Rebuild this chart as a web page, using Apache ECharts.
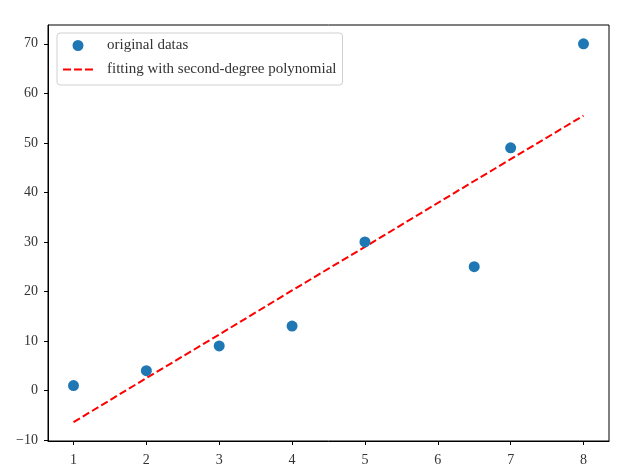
<!DOCTYPE html>
<html><head><meta charset="utf-8">
<script src="https://cdn.jsdelivr.net/npm/echarts@6/dist/echarts.min.js"></script>
<style>html,body{margin:0;padding:0;background:#fff}#c{width:634px;height:475px}</style>
</head><body><div id="c"></div>
<script>
const xData = [1, 2, 3, 4, 5, 6.5, 7, 8];
const yData = [1, 4, 9, 13, 30, 25, 49, 70];
const fitX = [1, 2, 3, 4, 5, 6.5, 7, 8];
const fitY = [-6.4, 2.5, 11.3, 20.2, 29.0, 42.3, 46.7, 55.5];
const xTicks = [1, 2, 3, 4, 5, 6, 7, 8];
const yTicks = [-10, 0, 10, 20, 30, 40, 50, 60, 70];

const font = '"Liberation Serif", "DejaVu Serif", serif';
const chart = echarts.init(document.getElementById('c'), null, {renderer: 'canvas'});
const axisCommon = {
  axisLine: {show: true, onZero: false, lineStyle: {color: '#000', width: 1}},
  axisTick: {show: true, inside: false, length: 4, lineStyle: {color: '#000'}},
  splitLine: {show: false},
  axisLabel: {color: '#333', fontFamily: font, fontSize: 14,
    formatter: v => String(v).replace('-', '\u2212')}
};
const dashIcon = 'path://M0,0h0.01v0.01h-0.01z M0,14h0.01v0.01h-0.01z M0,6h8v2h-8z M11,6h8v2h-8z M22,6h8v2h-8z';
chart.setOption({
  animation: false,
  grid: {left: 48, right: 25, top: 25, bottom: 34, show: true, borderColor: '#000', borderWidth: 1},
  legend: {
    orient: 'vertical', left: 57, top: 33,
    padding: [5, 6, 8, 6],
    itemWidth: 30, itemHeight: 14, itemGap: 9,
    backgroundColor: '#fff', borderColor: '#d0d0d0', borderWidth: 1, borderRadius: 3,
    textStyle: {fontFamily: font, fontSize: 15, color: '#333', padding: [0, 0, 0, 9]},
    data: [
      {name: 'original datas', icon: 'path://M5,1.5a5.5,5.5 0 1,0 0.001,0z M-10,0h0.01v0.01h-0.01z M20,14h0.01v0.01h-0.01z', itemStyle: {color: '#1f77b4'}},
      {name: 'fitting with second-degree polynomial', icon: dashIcon, itemStyle: {color: '#ff0000'}}
    ]
  },
  xAxis: Object.assign({type: 'value', min: 0.65, max: 8.35}, axisCommon, {
    axisTick: Object.assign({}, axisCommon.axisTick, {customValues: xTicks}),
    axisLabel: Object.assign({}, axisCommon.axisLabel, {customValues: xTicks, margin: 12})
  }),
  yAxis: Object.assign({type: 'value', min: -10.2, max: 73.8}, axisCommon, {
    axisTick: Object.assign({}, axisCommon.axisTick, {customValues: yTicks}),
    axisLabel: Object.assign({}, axisCommon.axisLabel, {customValues: yTicks, margin: 10})
  }),
  series: [
    {name: 'original datas', type: 'scatter', symbolSize: 11,
     itemStyle: {color: '#1f77b4', opacity: 1},
     data: xData.map((x, i) => [x, yData[i]]), z: 3},
    {name: 'fitting with second-degree polynomial', type: 'line', showSymbol: false, symbol: 'none',
     lineStyle: {color: '#ff0000', width: 2, type: [7.5, 3.3]},
     itemStyle: {color: '#ff0000'},
     data: fitX.map((x, i) => [x, fitY[i]]), z: 2}
  ]
});
</script></body></html>
